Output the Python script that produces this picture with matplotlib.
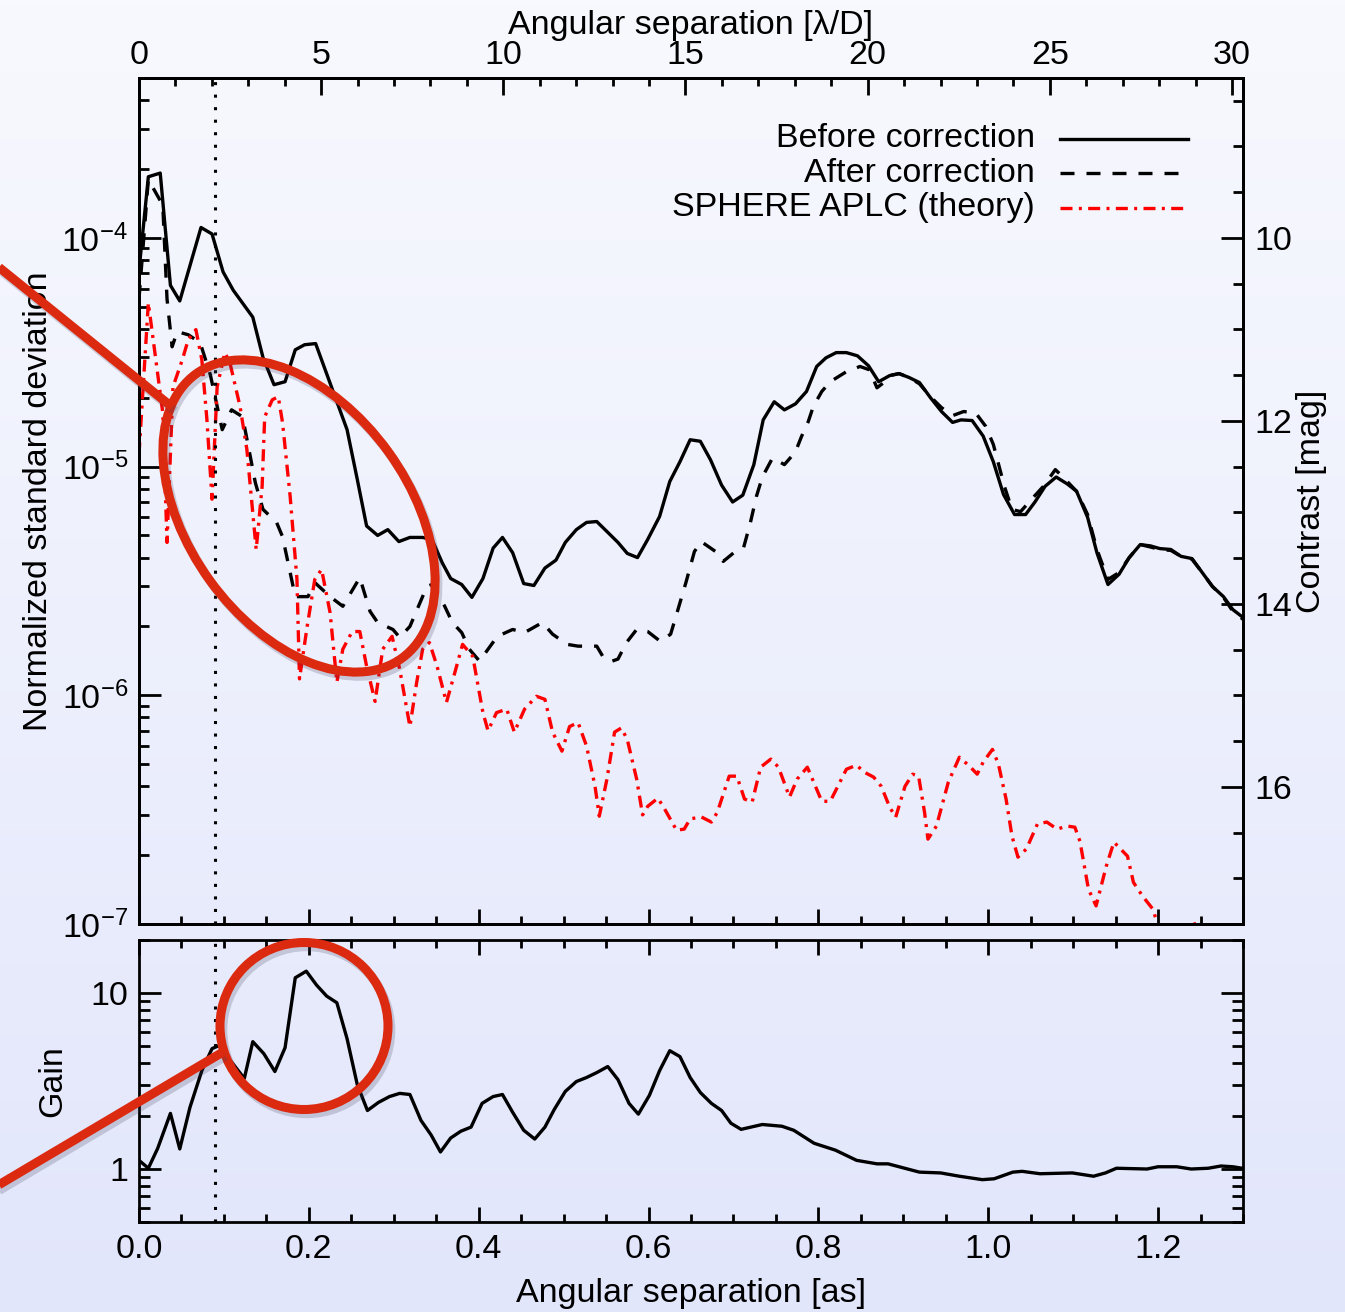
import numpy as np
import matplotlib
matplotlib.use('Agg')
import matplotlib.pyplot as plt
import matplotlib.patheffects as pe
from matplotlib.patches import Ellipse
from matplotlib.lines import Line2D
from matplotlib.colors import LinearSegmentedColormap
from matplotlib.transforms import IdentityTransform
from matplotlib.ticker import MultipleLocator, LogLocator, NullFormatter, FuncFormatter

plt.rcParams['font.family'] = ['Liberation Sans', 'DejaVu Sans']
plt.rcParams['font.size'] = 24.5
plt.rcParams['mathtext.default'] = 'regular'

LAMBDA_D = 0.0429   # arcsec per lambda/D
IWA = 0.089         # dotted line [as]

# ---- data ----
sep_before = [0.000, 0.011, 0.025, 0.037, 0.048, 0.073, 0.086, 0.099, 0.111, 0.134,
              0.146, 0.159, 0.172, 0.184, 0.195, 0.208, 0.245, 0.257, 0.268, 0.281,
              0.293, 0.306, 0.319, 0.334, 0.345, 0.357, 0.367, 0.380, 0.392, 0.405,
              0.417, 0.428, 0.440, 0.453, 0.465, 0.478, 0.491, 0.502, 0.515, 0.527,
              0.539, 0.551, 0.564, 0.575, 0.587, 0.599, 0.613, 0.625, 0.637, 0.649,
              0.661, 0.673, 0.686, 0.699, 0.711, 0.724, 0.735, 0.748, 0.760, 0.773,
              0.786, 0.798, 0.809, 0.821, 0.833, 0.846, 0.859, 0.871, 0.884, 0.895,
              0.907, 0.919, 0.932, 0.945, 0.958, 0.968, 0.981, 0.994, 1.006, 1.018,
              1.031, 1.044, 1.055, 1.067, 1.080, 1.093, 1.104, 1.117, 1.128, 1.141,
              1.154, 1.166, 1.179, 1.191, 1.202, 1.215, 1.227, 1.240, 1.252, 1.264,
              1.277, 1.288, 1.300]
std_before = [7.2e-5, 1.85e-4, 1.92e-4, 6.2e-5, 5.3e-5, 1.11e-4, 1.04e-4, 7.1e-5, 5.9e-5, 4.5e-5,
              3.0e-5, 2.28e-5, 2.35e-5, 3.24e-5, 3.41e-5, 3.45e-5, 1.45e-5, 8.8e-6, 5.5e-6, 5.0e-6,
              5.3e-6, 4.7e-6, 4.9e-6, 4.9e-6, 4.8e-6, 3.8e-6, 3.24e-6, 3.05e-6, 2.68e-6, 3.24e-6,
              4.4e-6, 4.9e-6, 4.2e-6, 3.08e-6, 3.02e-6, 3.6e-6, 3.9e-6, 4.66e-6, 5.3e-6, 5.7e-6,
              5.75e-6, 5.2e-6, 4.66e-6, 4.17e-6, 4.0e-6, 4.8e-6, 6.05e-6, 8.6e-6, 1.05e-5, 1.31e-5,
              1.29e-5, 1.07e-5, 8.3e-6, 7.0e-6, 7.5e-6, 1.02e-5, 1.60e-5, 1.92e-5, 1.77e-5, 1.88e-5,
              2.13e-5, 2.74e-5, 2.99e-5, 3.15e-5, 3.15e-5, 3.05e-5, 2.76e-5, 2.35e-5, 2.50e-5, 2.55e-5,
              2.45e-5, 2.33e-5, 2.0e-5, 1.74e-5, 1.56e-5, 1.60e-5, 1.59e-5, 1.36e-5, 1.05e-5, 7.55e-6,
              6.17e-6, 6.17e-6, 7.0e-6, 8.2e-6, 9.0e-6, 8.4e-6, 7.8e-6, 6.0e-6, 4.2e-6, 3.05e-6,
              3.38e-6, 4.0e-6, 4.56e-6, 4.5e-6, 4.38e-6, 4.34e-6, 4.05e-6, 3.96e-6, 3.44e-6, 2.99e-6,
              2.70e-6, 2.37e-6, 2.19e-6]

sep_after = [0.000, 0.011, 0.028, 0.033, 0.039, 0.045, 0.058, 0.072, 0.084, 0.098,
             0.109, 0.122, 0.137, 0.146, 0.162, 0.169, 0.184, 0.199, 0.207, 0.225,
             0.240, 0.260, 0.272, 0.281, 0.299, 0.307, 0.319, 0.339, 0.345, 0.360,
             0.369, 0.380, 0.389, 0.401, 0.411, 0.422, 0.440, 0.454, 0.475, 0.487,
             0.504, 0.517, 0.539, 0.548, 0.557, 0.564, 0.574, 0.586, 0.599, 0.614,
             0.626, 0.633, 0.644, 0.654, 0.662, 0.679, 0.688, 0.702, 0.712, 0.720,
             0.727, 0.734, 0.746, 0.760, 0.773, 0.780, 0.788, 0.794, 0.804, 0.814,
             0.833, 0.849, 0.860, 0.869, 0.877, 0.884, 0.895, 0.907, 0.919, 0.932,
             0.945, 0.958, 0.971, 0.985, 0.997, 1.006, 1.019, 1.028, 1.038, 1.054,
             1.065, 1.079, 1.088, 1.104, 1.117, 1.128, 1.141, 1.154, 1.166, 1.179,
             1.191, 1.202, 1.215, 1.227, 1.240, 1.252, 1.264, 1.277, 1.288, 1.300]
std_after = [5.4e-5, 1.80e-4, 1.39e-4, 5.4e-5, 3.34e-5, 3.89e-5, 3.77e-5, 3.48e-5, 2.52e-5, 1.45e-5,
             1.77e-5, 1.65e-5, 8.5e-6, 6.5e-6, 5.7e-6, 4.94e-6, 2.70e-6, 2.70e-6, 3.11e-6, 2.70e-6,
             2.45e-6, 3.27e-6, 2.33e-6, 2.08e-6, 1.94e-6, 1.79e-6, 2.0e-6, 2.99e-6, 3.05e-6, 2.45e-6,
             2.08e-6, 1.88e-6, 1.59e-6, 1.41e-6, 1.59e-6, 1.81e-6, 1.94e-6, 1.88e-6, 2.08e-6, 1.85e-6,
             1.67e-6, 1.64e-6, 1.64e-6, 1.44e-6, 1.41e-6, 1.44e-6, 1.70e-6, 1.94e-6, 1.90e-6, 1.72e-6,
             1.85e-6, 2.26e-6, 3.11e-6, 4.25e-6, 4.7e-6, 4.25e-6, 3.85e-6, 4.25e-6, 4.43e-6, 5.7e-6,
             7.4e-6, 9.0e-6, 1.09e-5, 1.02e-5, 1.16e-5, 1.35e-5, 1.57e-5, 1.83e-5, 2.13e-5, 2.35e-5,
             2.60e-5, 2.74e-5, 2.65e-5, 2.21e-5, 2.33e-5, 2.50e-5, 2.55e-5, 2.45e-5, 2.3e-5, 2.02e-5,
             1.81e-5, 1.67e-5, 1.74e-5, 1.72e-5, 1.50e-5, 1.25e-5, 8.2e-6, 6.5e-6, 6.35e-6, 7.4e-6,
             8.2e-6, 9.7e-6, 9.0e-6, 7.8e-6, 6.17e-6, 4.34e-6, 3.21e-6, 3.44e-6, 4.0e-6, 4.56e-6,
             4.45e-6, 4.34e-6, 4.30e-6, 4.05e-6, 3.93e-6, 3.44e-6, 2.99e-6, 2.68e-6, 2.33e-6, 2.15e-6]

sep_aplc = [0.000, 0.011, 0.028, 0.033, 0.040, 0.051, 0.058, 0.067, 0.074, 0.080,
            0.086, 0.092, 0.101, 0.107, 0.119, 0.127, 0.138, 0.145, 0.148, 0.157,
            0.164, 0.169, 0.178, 0.186, 0.189, 0.198, 0.207, 0.215, 0.225, 0.233,
            0.240, 0.251, 0.260, 0.268, 0.278, 0.287, 0.298, 0.307, 0.319, 0.327,
            0.334, 0.342, 0.351, 0.362, 0.372, 0.381, 0.393, 0.405, 0.411, 0.421,
            0.433, 0.442, 0.454, 0.468, 0.478, 0.487, 0.498, 0.507, 0.517, 0.527,
            0.537, 0.542, 0.551, 0.560, 0.568, 0.575, 0.586, 0.593, 0.599, 0.611,
            0.619, 0.633, 0.642, 0.649, 0.662, 0.674, 0.681, 0.695, 0.704, 0.713,
            0.722, 0.732, 0.744, 0.753, 0.766, 0.775, 0.787, 0.804, 0.814, 0.824,
            0.833, 0.845, 0.854, 0.865, 0.874, 0.884, 0.891, 0.902, 0.911, 0.918,
            0.925, 0.929, 0.939, 0.953, 0.966, 0.978, 0.987, 0.994, 1.005, 1.012,
            1.021, 1.028, 1.035, 1.045, 1.058, 1.069, 1.081, 1.093, 1.102, 1.108,
            1.118, 1.127, 1.139, 1.148, 1.164, 1.171, 1.182, 1.194, 1.201, 1.224,
            1.242, 1.254, 1.300]
std_aplc = [1.13e-5, 5.2e-5, 1.72e-5, 4.66e-6, 2.23e-5, 2.93e-5, 3.59e-5, 3.97e-5, 2.93e-5, 1.60e-5,
            7.2e-6, 2.23e-5, 3.15e-5, 2.85e-5, 1.83e-5, 1.19e-5, 4.34e-6, 8.2e-6, 1.65e-5, 1.96e-5,
            2.02e-5, 1.56e-5, 7.4e-6, 3.21e-6, 1.18e-6, 2.0e-6, 3.21e-6, 3.55e-6, 2.30e-6, 1.14e-6,
            1.59e-6, 1.90e-6, 1.90e-6, 1.34e-6, 9.4e-7, 1.59e-6, 1.81e-6, 1.30e-6, 7.3e-7, 1.14e-6,
            1.59e-6, 1.70e-6, 1.34e-6, 9.3e-7, 1.26e-6, 1.67e-6, 1.48e-6, 8.4e-7, 7.0e-7, 8.4e-7,
            8.7e-7, 6.9e-7, 8.7e-7, 9.9e-7, 9.6e-7, 6.9e-7, 5.7e-7, 7.3e-7, 7.6e-7, 6.0e-7,
            4.0e-7, 2.96e-7, 4.3e-7, 6.9e-7, 7.2e-7, 6.4e-7, 4.3e-7, 3.0e-7, 3.27e-7, 3.55e-7,
            3.18e-7, 2.57e-7, 2.6e-7, 2.88e-7, 2.94e-7, 2.79e-7, 3.08e-7, 4.43e-7, 4.43e-7, 3.52e-7,
            3.41e-7, 4.85e-7, 5.26e-7, 4.85e-7, 3.59e-7, 4.3e-7, 4.85e-7, 3.44e-7, 3.44e-7, 4.08e-7,
            4.75e-7, 4.95e-7, 4.61e-7, 4.39e-7, 4.0e-7, 3.24e-7, 2.93e-7, 4.0e-7, 4.52e-7, 4.43e-7,
            3.08e-7, 2.35e-7, 2.68e-7, 4.17e-7, 5.36e-7, 4.9e-7, 4.52e-7, 5.1e-7, 5.8e-7, 5.0e-7,
            3.52e-7, 2.42e-7, 1.96e-7, 2.13e-7, 2.74e-7, 2.79e-7, 2.6e-7, 2.68e-7, 2.65e-7, 2.3e-7,
            1.42e-7, 1.20e-7, 1.79e-7, 2.28e-7, 1.98e-7, 1.52e-7, 1.32e-7, 1.16e-7, 9.5e-8, 7e-8,
            1.02e-7, 8e-8, 5e-8]

sep_gain = [0.000, 0.011, 0.022, 0.037, 0.048, 0.060, 0.074, 0.086, 0.094, 0.124,
            0.134, 0.147, 0.160, 0.172, 0.184, 0.197, 0.209, 0.221, 0.233, 0.245,
            0.257, 0.269, 0.282, 0.295, 0.307, 0.319, 0.332, 0.344, 0.355, 0.367,
            0.379, 0.391, 0.404, 0.417, 0.428, 0.440, 0.453, 0.466, 0.478, 0.489,
            0.502, 0.515, 0.527, 0.539, 0.552, 0.564, 0.577, 0.588, 0.601, 0.613,
            0.625, 0.637, 0.649, 0.661, 0.674, 0.686, 0.697, 0.709, 0.734, 0.757,
            0.771, 0.795, 0.820, 0.845, 0.869, 0.882, 0.919, 0.944, 0.966, 0.993,
            1.007, 1.029, 1.040, 1.061, 1.099, 1.124, 1.138, 1.151, 1.187, 1.200,
            1.222, 1.239, 1.259, 1.274, 1.288, 1.299]
gain = [1.12, 1.01, 1.31, 2.07, 1.30, 2.24, 3.62, 4.83, 5.02, 3.27,
        5.29, 4.52, 3.58, 4.89, 12.2, 13.3, 11.1, 9.6, 8.8, 5.5,
        3.02, 2.15, 2.39, 2.58, 2.69, 2.65, 1.89, 1.56, 1.25, 1.50,
        1.64, 1.73, 2.36, 2.58, 2.65, 2.10, 1.66, 1.48, 1.73, 2.18,
        2.76, 3.14, 3.31, 3.53, 3.82, 3.22, 2.36, 2.05, 2.62, 3.62,
        4.70, 4.35, 3.31, 2.72, 2.36, 2.15, 1.82, 1.68, 1.79, 1.75,
        1.66, 1.40, 1.28, 1.12, 1.07, 1.07, 0.96, 0.95, 0.91, 0.87,
        0.88, 0.96, 0.97, 0.94, 0.95, 0.91, 0.95, 1.01, 1.00, 1.03,
        1.03, 1.00, 1.01, 1.04, 1.03, 1.01]

legend_labels = ['Before correction', 'After correction', 'SPHERE APLC (theory)']

# ---- figure ----
W, H = 1345, 1312
fig = plt.figure(figsize=(W / 100, H / 100), dpi=100)

# soft blue gradient behind everything
bg = fig.add_axes([0, 0, 1, 1], zorder=-10)
cmap = LinearSegmentedColormap.from_list('bg', ['#f8f9fe', '#e2e6fb'])
bg.imshow(np.linspace(0, 1, 256)[:, None], aspect='auto', cmap=cmap,
          extent=[0, 1, 0, 1], origin='upper')
bg.axis('off')

ax = fig.add_axes([139 / W, 1 - 924 / H, 1104 / W, 846 / H])
axg = fig.add_axes([139 / W, 1 - 1222 / H, 1104 / W, 282 / H], sharex=ax)
for a in (ax, axg):
    a.patch.set_visible(False)

LW = 2.4
styles = [dict(color='k', lw=LW),
          dict(color='k', lw=LW, dashes=(4.2, 3.6)),
          dict(color='red', lw=LW, dashes=(3.6, 1.9, 0.9, 1.9))]

ax.plot(sep_before, std_before, **styles[0])
ax.plot(sep_after, std_after, **styles[1])
ax.plot(sep_aplc, std_aplc, **styles[2])
for a in (ax, axg):
    a.axvline(IWA, color='k', lw=2.2, dashes=(1, 3.1))

ax.set_yscale('log')
ax.set_ylim(1e-7, 5e-4)
ax.set_xlim(0, 1.3)
ax.xaxis.set_major_locator(MultipleLocator(0.2))
ax.xaxis.set_minor_locator(MultipleLocator(0.05))
ax.yaxis.set_major_locator(LogLocator(base=10, numticks=12))
ax.yaxis.set_minor_locator(LogLocator(base=10, subs=np.arange(2, 10), numticks=12))
ax.yaxis.set_minor_formatter(NullFormatter())
ax.yaxis.set_major_formatter(FuncFormatter(lambda v, p: r'10$^{%d}$' % round(np.log10(v))))
ax.tick_params(axis='x', which='both', direction='in', bottom=True, top=False, labelbottom=False, width=2)
ax.tick_params(axis='x', which='major', length=11)
ax.tick_params(axis='x', which='minor', length=6)
ax.tick_params(axis='y', which='both', direction='in', left=True, right=False, width=2, pad=8)
ax.tick_params(axis='y', which='major', length=16)
ax.tick_params(axis='y', which='minor', length=7)
ax.set_ylabel('Normalized standard deviation')
ax.yaxis.set_label_coords(-0.077, 0.5)

# top axis in lambda/D
axl = ax.twiny()
axl.set_xlim(0, 1.3 / LAMBDA_D)
axl.xaxis.set_major_locator(MultipleLocator(5))
axl.xaxis.set_minor_locator(MultipleLocator(1))
axl.tick_params(axis='x', which='both', direction='in', top=True, bottom=False, width=2, pad=5)
axl.tick_params(axis='x', which='major', length=12)
axl.tick_params(axis='x', which='minor', length=6)
axl.set_xlabel('Angular separation [λ/D]')
axl.xaxis.set_label_coords(0.5, 1.052)

# right axis in magnitudes
axm = ax.twinx()
axm.set_ylim(-2.5 * np.log10(1e-7), -2.5 * np.log10(5e-4))
axm.yaxis.set_major_locator(MultipleLocator(2))
axm.yaxis.set_minor_locator(MultipleLocator(0.5))
axm.tick_params(axis='y', which='both', direction='in', right=True, left=False, width=2, pad=8)
axm.tick_params(axis='y', which='major', length=16)
axm.tick_params(axis='y', which='minor', length=7)
axm.set_ylabel('Contrast [mag]')
axm.yaxis.set_label_coords(1.048, 0.5)

# legend, text right-aligned left of the samples
for i, (lab, st) in enumerate(zip(legend_labels, styles)):
    yy = 0.9280 - i * 0.0408
    ax.text(0.8116, yy, lab, transform=ax.transAxes, ha='right', va='center')
    ax.add_line(Line2D([0.834, 0.950], [yy, yy], transform=ax.transAxes, **st))

# gain panel
axg.plot(sep_gain, gain, color='k', lw=LW)
axg.set_yscale('log')
axg.set_ylim(0.5, 20)
axg.yaxis.set_major_locator(LogLocator(base=10, numticks=12))
axg.yaxis.set_minor_locator(LogLocator(base=10, subs=np.arange(2, 10), numticks=12))
axg.yaxis.set_minor_formatter(NullFormatter())
axg.yaxis.set_major_formatter(FuncFormatter(lambda v, p: '%g' % v))
axg.xaxis.set_major_formatter(FuncFormatter(lambda v, p: '%.1f' % v))
axg.tick_params(axis='both', which='both', direction='in', top=True, right=True, width=2)
axg.tick_params(axis='x', which='major', length=11, pad=9)
axg.tick_params(axis='x', which='minor', length=6)
axg.tick_params(axis='y', which='major', length=16, pad=8)
axg.tick_params(axis='y', which='minor', length=8)
axg.set_xlabel('Angular separation [as]')
axg.xaxis.set_label_coords(0.5, -0.2)
axg.set_ylabel('Gain')
axg.yaxis.set_label_coords(-0.064, 0.5)

for a in (ax, axg, axl, axm):
    for s in a.spines.values():
        s.set_linewidth(2)

# red highlight annotations (pixel coordinates of the figure)
ring = '#db2a10'
shadow = [pe.SimpleLineShadow(offset=(2, -3), shadow_color='#404060', alpha=0.22), pe.Normal()]
px = IdentityTransform()
fig.add_artist(Ellipse((299, H - 516), 351, 220, angle=-54.1, transform=px, fill=False,
                       ec=ring, lw=6.5, path_effects=shadow))
fig.add_artist(Line2D([-20, 172], [H - 252, H - 407], transform=px, color=ring, lw=6.5,
                      solid_capstyle='butt', path_effects=shadow))
fig.add_artist(Ellipse((304, H - 1026), 168, 167, transform=px, fill=False,
                       ec=ring, lw=6.5, path_effects=shadow))
fig.add_artist(Line2D([-20, 223], [H - 1196, H - 1052], transform=px, color=ring, lw=6.5,
                      solid_capstyle='butt', path_effects=shadow))

fig.savefig('out.png', dpi=100)
